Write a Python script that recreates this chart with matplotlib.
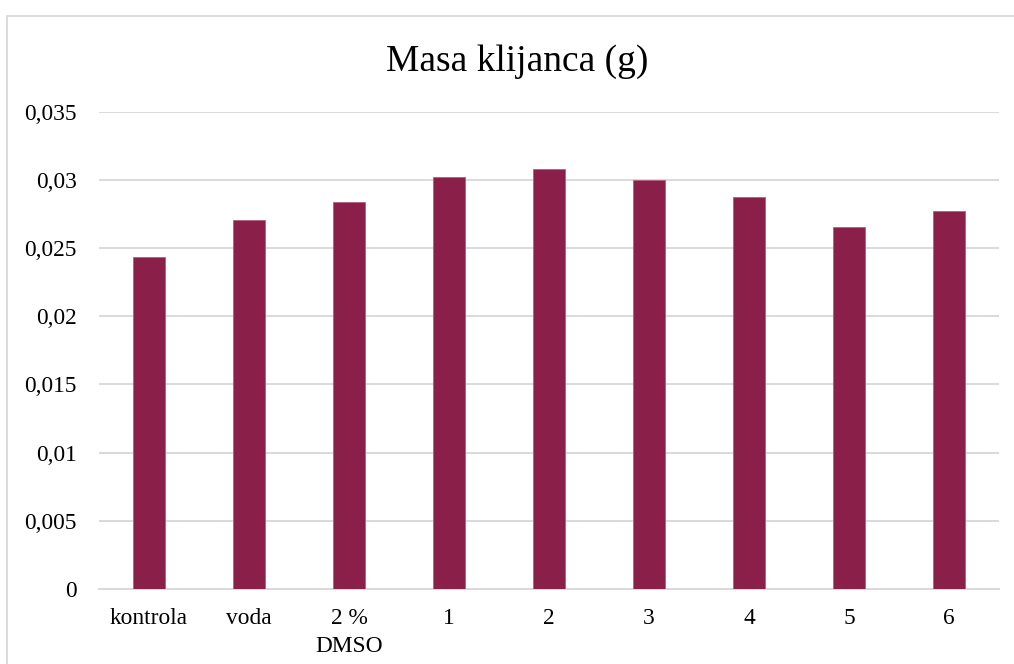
import matplotlib
matplotlib.use("Agg")
import matplotlib.pyplot as plt
from matplotlib.patches import Rectangle

categories = ["kontrola", "voda", "2 %\nDMSO", "1", "2", "3", "4", "5", "6"]
masses = [0.02434, 0.02705, 0.02842, 0.03026, 0.03082, 0.03004, 0.02877, 0.02654, 0.02774]
y_ticks = [0, 0.005, 0.01, 0.015, 0.02, 0.025, 0.03, 0.035]
y_tick_labels = ["0", "0,005", "0,01", "0,015", "0,02", "0,025", "0,03", "0,035"]

plt.rcParams["font.family"] = ["Liberation Serif", "DejaVu Serif"]

W, H = 1014, 664
fig = plt.figure(figsize=(W / 100, H / 100), dpi=100)
fig.patch.set_facecolor("white")

# chart frame (runs off the right and bottom edge)
fig.patches.append(Rectangle((7 / W, -0.1), 1.2, 1 - 16 / H + 0.1,
                             transform=fig.transFigure, fill=False,
                             edgecolor="#d9d9d9", linewidth=1.3))

ax = fig.add_axes([99 / W, 1 - 588.7 / H, 900 / W, (588.7 - 112) / H])
x = range(len(categories))
ax.bar(x, masses, width=0.32, color="#8a2049", edgecolor="#b0607f", linewidth=0.6, zorder=3)

ax.set_xlim(-0.5, len(categories) - 0.5)
ax.set_ylim(0, 0.035)
ax.set_yticks(y_ticks)
ax.set_yticklabels(y_tick_labels)
ax.set_xticks(list(x))
ax.set_xticklabels(categories, linespacing=1.45)
ax.tick_params(axis="both", length=0, labelsize=16.8, colors="black")
ax.tick_params(axis="y", pad=16)
ax.tick_params(axis="x", pad=14)
ax.grid(axis="y", color="#d9d9d9", linewidth=1.4, zorder=0)
for side in ["top", "right", "left"]:
    ax.spines[side].set_visible(False)
ax.spines["bottom"].set_color("#d9d9d9")
ax.spines["bottom"].set_linewidth(1.4)

fig.text(517 / W, 1 - 62 / H, "Masa klijanca (g)", ha="center", va="center", fontsize=27)

fig.savefig("out.png", dpi=100)
